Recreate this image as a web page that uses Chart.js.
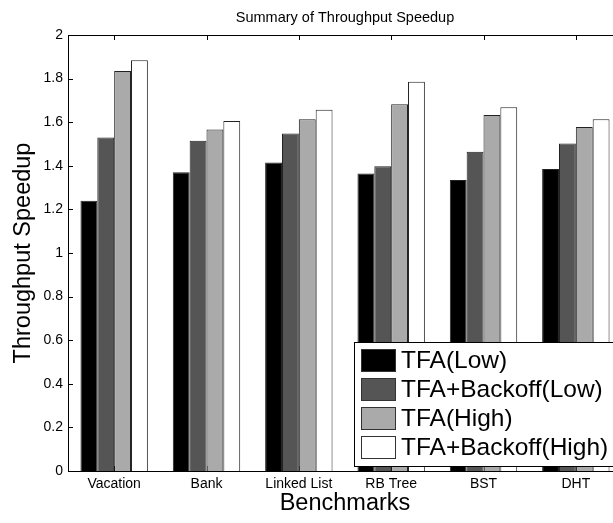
<!DOCTYPE html>
<html>
<head>
<meta charset="utf-8">
<title>Summary of Throughput Speedup</title>
<script src="https://cdn.jsdelivr.net/npm/chart.js@4"></script>
<style>
    html, body { margin: 0; padding: 0; background: #fff; overflow: hidden; width: 613px; height: 523px; }
    canvas { display: block; }
</style>
</head>
<body>
<canvas id="speedup-chart" width="690" height="523"></canvas>
<script>
const benchmarks = ["Vacation", "Bank", "Linked List", "RB Tree", "BST", "DHT"];
const seriesNames = ["TFA(Low)", "TFA+Backoff(Low)", "TFA(High)", "TFA+Backoff(High)"];
const tfaLow = [1.24, 1.37, 1.415, 1.365, 1.335, 1.385];
const tfaBackoffLow = [1.53, 1.515, 1.548, 1.398, 1.465, 1.502];
const tfaHigh = [1.835, 1.566, 1.613, 1.682, 1.633, 1.578];
const tfaBackoffHigh = [1.884, 1.606, 1.657, 1.785, 1.669, 1.614];
const yTicks = [0, 0.2, 0.4, 0.6, 0.8, 1, 1.2, 1.4, 1.6, 1.8, 2];

const fillColours = ["#000000", "#555555", "#aaaaaa", "#ffffff"];
const fontFamily = "'Liberation Sans', Arial, sans-serif";

// box round the plot with matlab style inward ticks, plus the title centred on the plot
const axesBox = {
    id: "axesBox",
    beforeDatasetsDraw(chart) {
        const { ctx, chartArea: a, scales: { x, y } } = chart;
        ctx.save();
        ctx.strokeStyle = "#000";
        ctx.lineWidth = 1;
        ctx.strokeRect(a.left + 0.5, a.top + 0.5, a.right - a.left, a.bottom - a.top);
        ctx.beginPath();
        y.ticks.forEach((t, i) => {
            const py = Math.round(y.getPixelForTick(i)) + 0.5;
            ctx.moveTo(a.left, py);
            ctx.lineTo(a.left + 5, py);
            ctx.moveTo(a.right, py);
            ctx.lineTo(a.right - 5, py);
        });
        x.ticks.forEach((t, i) => {
            const px = Math.round(x.getPixelForTick(i)) + 0.5;
            ctx.moveTo(px, a.top);
            ctx.lineTo(px, a.top + 5);
            ctx.moveTo(px, a.bottom);
            ctx.lineTo(px, a.bottom - 5);
        });
        ctx.stroke();

        ctx.fillStyle = "#000";
        ctx.font = "14.5px " + fontFamily;
        ctx.textAlign = "center";
        ctx.textBaseline = "alphabetic";
        ctx.fillText("Summary of Throughput Speedup", (a.left + a.right) / 2, 21.5);
        ctx.restore();
    }
};

// legend box sitting inside the plot, bottom right
const boxLegend = {
    id: "boxLegend",
    afterDatasetsDraw(chart) {
        const ctx = chart.ctx;
        const left = 354, top = 342, bottom = 466;
        ctx.save();
        ctx.fillStyle = "#fff";
        ctx.fillRect(left, top, 400, bottom - top);
        ctx.strokeStyle = "#000";
        ctx.lineWidth = 1;
        ctx.strokeRect(left + 0.5, top + 0.5, 400, bottom - top);
        ctx.font = "24.5px " + fontFamily;
        ctx.textBaseline = "middle";
        chart.data.datasets.forEach((ds, i) => {
            const rowTop = 349 + i * 29;
            ctx.fillStyle = ds.backgroundColor;
            ctx.fillRect(361, rowTop, 35, 23);
            ctx.strokeStyle = "#333";
            ctx.strokeRect(361.5, rowTop + 0.5, 34, 22);
            ctx.fillStyle = "#000";
            ctx.fillText(ds.label, 401, rowTop + 12);
        });
        ctx.restore();
    }
};

const seriesValues = [tfaLow, tfaBackoffLow, tfaHigh, tfaBackoffHigh];

new Chart(document.getElementById("speedup-chart").getContext("2d"), {
    type: "bar",
    data: {
        labels: benchmarks,
        datasets: seriesNames.map((name, i) => ({
            label: name,
            data: seriesValues[i],
            backgroundColor: fillColours[i],
            borderColor: "#222",
            borderWidth: 1,
            borderSkipped: "bottom"
        }))
    },
    options: {
        responsive: false,
        animation: false,
        layout: { padding: { left: 0, right: 68, top: 35, bottom: 0 } },
        datasets: {
            bar: { categoryPercentage: 0.73, barPercentage: 1.0 }
        },
        plugins: {
            legend: { display: false },
            tooltip: { enabled: false },
            title: { display: false }
        },
        scales: {
            x: {
                grid: { display: false, drawTicks: false, tickLength: 0 },
                border: { display: false },
                ticks: { color: "#000", font: { family: fontFamily, size: 14 }, padding: 5, maxRotation: 0 },
                title: {
                    display: true,
                    text: "Benchmarks",
                    color: "#000",
                    font: { family: fontFamily, size: 23.5 },
                    padding: { top: 0, bottom: 5.4 }
                },
                afterFit(scale) { scale.height = 52; }
            },
            y: {
                min: 0,
                max: 2,
                grid: { display: false, drawTicks: false, tickLength: 0 },
                border: { display: false },
                afterBuildTicks(scale) { scale.ticks = yTicks.map(v => ({ value: v })); },
                ticks: {
                    color: "#000",
                    font: { family: fontFamily, size: 14 },
                    padding: 5,
                    callback: v => String(+Number(v).toFixed(1))
                },
                title: {
                    display: true,
                    text: "Throughput Speedup",
                    color: "#000",
                    font: { family: fontFamily, size: 23.5 },
                    padding: { top: 9.5, bottom: 0 }
                },
                afterFit(scale) { scale.width = 68; }
            }
        }
    },
    plugins: [axesBox, boxLegend]
});
</script>
</body>
</html>
